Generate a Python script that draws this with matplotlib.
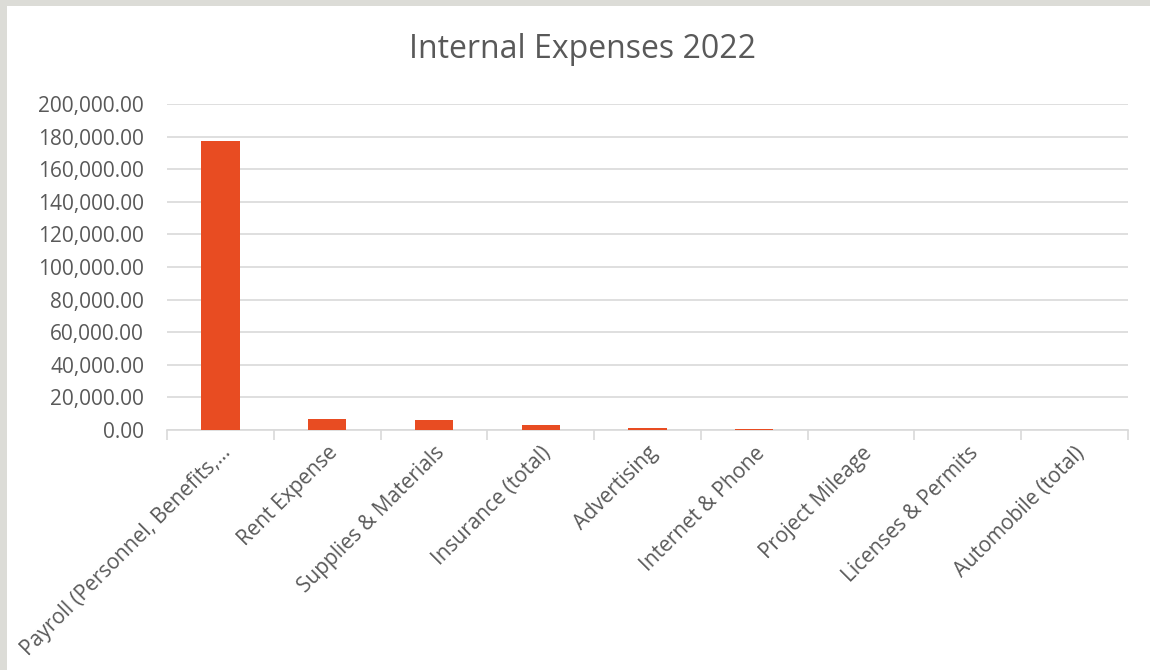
import matplotlib.pyplot as plt
import matplotlib.patches as mpatches
import numpy as np
from matplotlib.ticker import FuncFormatter

categories = ['Payroll (Personnel, Benefits,…', 'Rent Expense', 'Supplies & Materials',
              'Insurance (total)', 'Advertising', 'Internet & Phone', 'Project Mileage',
              'Licenses & Permits', 'Automobile (total)']
amounts = [177300, 6700, 6400, 3000, 1200, 900, 0, 0, 0]
y_ticks = [0, 20000, 40000, 60000, 80000, 100000, 120000, 140000, 160000, 180000, 200000]

text_color = '#595959'
grid_color = '#d9d9d9'
bar_color = '#e84c22'

plt.rcParams['font.family'] = ['Open Sans', 'DejaVu Sans']

fig = plt.figure(figsize=(11.5, 6.7), dpi=100)
fig.patch.set_facecolor('#dcdcd7')
# white chart panel behind everything
fig.patches.append(mpatches.Rectangle((7 / 1150, 0), 1, 1 - 6 / 670, transform=fig.transFigure,
                                      facecolor='white', edgecolor='none', zorder=-5))

ax = fig.add_axes([167 / 1150, 1 - 430 / 670, (1128 - 167) / 1150, (430 - 104) / 670])
ax.set_facecolor('none')
ax.set_zorder(2)

x = np.arange(len(categories))
ax.bar(x, amounts, width=0.36, color=bar_color, edgecolor='none', zorder=3)

ax.set_xlim(-0.5, len(categories) - 0.5)
ax.set_ylim(0, 200000)
ax.set_yticks(y_ticks)
ax.yaxis.set_major_formatter(FuncFormatter(lambda v, p: f'{v:,.2f}'))
ax.grid(axis='y', color=grid_color, linewidth=1.2, zorder=0)
ax.tick_params(axis='y', length=0, pad=16.5, labelsize=15, labelcolor=text_color)

# category boundaries as tick marks, labels at centres
ax.set_xticks(np.arange(len(categories) + 1) - 0.5)
ax.set_xticklabels([])
ax.set_xticks(x, minor=True)
ax.set_xticklabels(categories, minor=True, rotation=45, ha='right', va='top',
                   rotation_mode='anchor', fontsize=15, color=text_color)
ax.tick_params(axis='x', which='major', length=7, width=1.2, color=grid_color)
ax.tick_params(axis='x', which='minor', length=0, pad=9)

for s in ['top', 'right', 'left']:
    ax.spines[s].set_visible(False)
ax.spines['bottom'].set_color(grid_color)
ax.spines['bottom'].set_linewidth(1.2)

fig.text(582 / 1150, 1 - 50 / 670, 'Internal Expenses 2022', ha='center', va='center',
         fontsize=23, color=text_color)

fig.savefig('out.png', dpi=100)
